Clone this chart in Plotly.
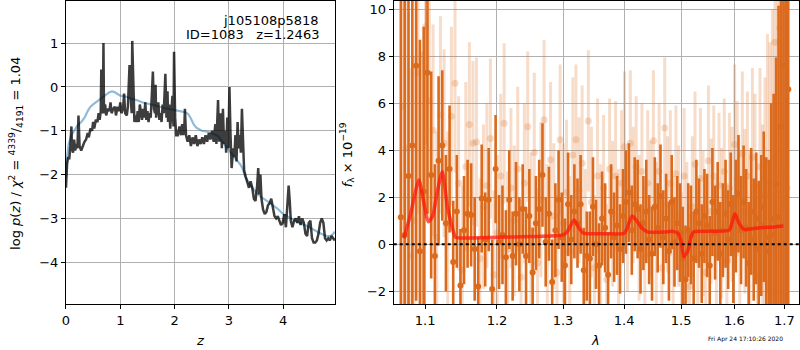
import plotly.graph_objects as go

# ---------------- left panel: redshift PDF ----------------
z_grid = [0.00,0.02,0.04,0.06,0.08,0.10,0.11,0.13,0.15,0.17,0.19,0.21,0.23,0.25,0.28,0.31,0.34,0.37,0.40,0.42,
          0.45,0.48,0.50,0.52,0.55,0.58,0.60,0.62,0.64,0.65,0.66,0.68,0.69,0.70,0.72,0.74,0.77,0.80,0.82,0.84,
          0.87,0.90,0.92,0.95,0.98,1.00,1.02,1.05,1.07,1.09,1.12,1.14,1.17,1.19,1.21,1.22,1.24,1.26,1.28,1.30,
          1.32,1.34,1.36,1.38,1.40,1.42,1.44,1.46,1.48,1.50,1.52,1.54,1.56,1.58,1.60,1.62,1.64,1.65,1.66,1.68,
          1.70,1.72,1.74,1.76,1.78,1.80,1.83,1.85,1.87,1.88,1.90,1.92,1.94,1.96,1.98,1.99,2.01,2.03,2.06,2.09,
          2.12,2.14,2.16,2.18,2.19,2.21,2.24,2.27,2.30,2.33,2.36,2.39,2.42,2.45,2.48,2.51,2.54,2.57,2.60,2.63,
          2.66,2.69,2.72,2.75,2.77,2.80,2.82,2.85,2.87,2.89,2.91,2.93,2.95,2.97,2.99,3.01,3.03,3.05,3.08,3.10,
          3.12,3.14,3.16,3.18,3.20,3.22,3.24,3.26,3.28,3.31,3.34,3.37,3.40,3.43,3.46,3.49,3.52,3.54,3.56,3.58,
          3.60,3.63,3.66,3.69,3.72,3.75,3.78,3.81,3.84,3.87,3.90,3.93,3.96,3.99,4.02,4.05,4.08,4.10,4.12,4.14,
          4.17,4.20,4.23,4.26,4.29,4.32,4.35,4.38,4.41,4.44,4.47,4.50,4.53,4.56,4.59,4.62,4.65,4.68,4.71,4.74,
          4.77,4.80,4.83,4.86,4.89,4.92,4.95]
log_pz = [-2.30,-1.75,-1.60,-1.65,-1.35,-0.90,-1.40,-1.50,-1.20,-1.45,-1.30,-1.40,-0.65,-1.35,-1.45,-1.35,-1.25,-1.20,-1.05,-1.15,
          -0.95,-1.00,-0.80,-0.95,-0.75,-0.80,-0.60,-0.75,-0.55,0.40,-0.60,-0.50,1.00,-0.60,-0.40,-0.65,-0.50,-0.55,-0.35,-0.60,
          -0.50,-0.45,-0.65,-0.45,-0.55,-0.35,-0.60,-0.50,-0.15,-0.60,-0.65,-0.45,0.50,-0.20,-0.60,1.05,-0.30,-0.80,-0.65,-0.80,
          -0.55,-0.80,-0.40,-0.60,-0.75,-0.50,-0.70,-0.35,-0.75,-0.55,-0.80,-0.60,-0.70,-0.20,0.35,-0.50,-0.60,0.05,-0.70,-0.50,
          -0.35,-0.75,-0.60,-0.80,-0.40,-0.60,0.30,-0.70,-0.10,-0.80,-0.40,-0.95,-0.60,-0.20,-0.90,0.80,-0.70,-1.10,-1.10,-0.90,
          -1.10,-0.85,-1.10,-0.90,-0.50,-1.10,-1.25,-1.10,-1.35,-1.15,-1.30,-1.10,-1.35,-1.20,-1.30,-1.15,-1.30,-1.10,-1.25,-1.05,
          -1.20,-1.00,-1.25,-0.85,-1.30,-0.30,-1.25,-0.60,-1.40,-0.50,-1.30,-1.00,-1.50,-0.70,-1.40,0.00,-1.10,-1.85,-1.40,-1.60,
          -1.10,-1.70,-0.80,-1.40,-1.10,-1.50,-0.50,-1.40,-1.90,-2.05,-2.20,-2.30,-2.15,-2.30,-2.55,-2.60,-2.25,-1.85,-2.45,-2.00,
          -2.55,-2.80,-2.90,-2.85,-2.70,-2.65,-2.55,-2.75,-2.95,-3.00,-2.95,-3.05,-3.15,-3.10,-2.90,-3.20,-2.50,-2.25,-2.60,-3.05,
          -3.20,-3.05,-3.00,-3.10,-2.95,-3.15,-3.00,-3.10,-3.35,-3.40,-3.10,-3.05,-3.45,-3.55,-3.55,-3.50,-3.35,-3.10,-3.00,-3.10,
          -3.45,-3.50,-3.45,-3.50,-3.40,-3.45,-3.50]

z_smooth = [0.00,0.02,0.05,0.10,0.15,0.20,0.30,0.35,0.40,0.45,0.50,0.55,0.60,0.70,0.80,0.85,0.90,1.00,1.10,1.20,
            1.30,1.40,1.50,1.60,1.70,1.80,1.90,2.00,2.10,2.20,2.25,2.30,2.35,2.40,2.50,2.60,2.70,2.80,2.85,2.90,
            3.00,3.10,3.20,3.25,3.30,3.40,3.50,3.60,3.70,3.80,3.90,4.00,4.10,4.20,4.30,4.40,4.50,4.60,4.70,4.80,
            4.87,4.92,4.95]
logp_smooth = [-2.05,-1.60,-1.30,-1.10,-1.00,-0.90,-0.77,-0.68,-0.55,-0.45,-0.40,-0.35,-0.30,-0.20,-0.12,-0.10,-0.12,-0.20,-0.22,-0.27,
               -0.30,-0.35,-0.38,-0.40,-0.44,-0.48,-0.50,-0.53,-0.55,-0.58,-0.62,-0.72,-0.85,-0.93,-1.00,-1.02,-1.06,-1.12,-1.20,-1.30,
               -1.45,-1.60,-1.75,-1.85,-2.05,-2.25,-2.40,-2.52,-2.60,-2.68,-2.78,-2.90,-2.97,-3.03,-3.10,-3.15,-3.22,-3.28,-3.35,-3.40,
               -3.40,-3.35,-3.30]

# ---------------- right panel: 1D spectrum ----------------
lam_a = [1.068,1.073,1.078,1.083,1.088,1.093,1.098,1.103,1.108,1.113,1.118,1.123,1.128,1.133,1.138,1.143,1.148,1.153,1.158,1.163,
         1.168,1.173,1.178,1.183,1.188,1.193,1.198,1.203,1.208,1.213,1.218,1.223,1.228,1.233,1.238,1.243,1.248,1.253,1.258,1.263,
         1.268,1.273,1.278,1.283,1.288,1.293,1.298,1.303,1.308,1.313,1.318,1.323,1.328,1.333,1.338,1.343,1.348,1.353,1.358,1.363,
         1.368,1.373,1.378,1.383,1.388,1.393,1.398,1.403,1.408,1.413,1.418,1.423,1.428,1.433,1.438,1.443,1.448,1.453,1.458,1.463,
         1.468,1.473,1.478,1.483,1.488,1.493,1.498,1.503,1.508,1.513,1.518,1.523,1.528,1.533,1.538,1.543,1.548,1.553,1.558,1.563,
         1.568,1.573,1.578,1.583,1.588,1.593,1.598,1.603,1.608,1.613,1.618,1.623,1.628,1.633,1.638,1.643,1.648,1.653,1.658,1.663,
         1.668,1.673,1.678,1.683,1.688,1.693,1.698,1.703,1.708]
flux_a = [1.15,0.4,2.9,4.2,7.6,-0.3,2.25,7.3,2.95,-0.5,
          3.55,4.2,0.9,3.2,-0.75,1.4,-1.75,0.6,1.3,1.25,
          -0.2,-1.8,1.95,0.2,1.9,-1.9,3.2,0.1,0.4,-0.55,
          1.9,-0.5,1.3,0.0,1.5,-0.5,1.2,-1.2,0.9,1.5,
          2.95,0.1,1.3,-1.6,0.6,1.9,0.3,-0.9,1.7,0.2,
          1.4,0.9,1.7,-1.1,-0.5,-0.6,1.6,0.0,-0.9,1.1,
          0.7,-1.3,1.4,0.3,0.8,-0.2,1.2,1.8,2.2,0.6,
          1.7,1.5,-0.2,0.9,1.4,0.2,-0.4,1.6,0.7,2.05,
          0.3,1.1,-0.3,1.8,0.1,0.9,0.5,-0.6,-1.5,0.6,
          0.4,-0.6,1.4,0.9,-0.4,1.2,0.8,-0.9,1.8,0.5,
          1.4,-0.4,0.6,1.3,0.2,1.7,-0.2,1.2,2.15,0.6,
          1.8,0.7,-0.8,1.4,0.2,1.1,-0.2,0.8,1.6,0.3,
          -0.3,1.1,0.4,2.55,1.15,5.0,7.6,10.0,6.6]
err_a = [14,16,13,11,10,9,7,6,4.4,3.9,
         3.6,3.2,2.9,2.7,2.6,2.4,2.4,2.3,2.3,2.2,
         2.2,2.1,2.3,2.0,2.2,2.1,2.3,2.0,2.1,2.0,
         2.1,1.9,2.2,2.0,1.9,2.1,2.0,1.9,2.0,2.1,
         2.2,1.9,2.0,1.8,2.0,2.1,1.9,2.0,2.2,1.9,
         2.0,1.9,2.1,1.8,1.9,2.0,2.1,1.9,1.8,2.0,
         1.9,1.8,2.0,1.9,2.1,1.9,2.0,2.2,2.1,1.9,
         2.0,2.1,1.9,2.0,2.2,1.9,2.0,2.1,1.9,2.2,
         2.0,1.9,2.1,2.0,1.9,2.0,2.1,2.2,2.3,2.0,
         2.1,2.0,2.2,1.9,2.1,2.0,2.2,2.1,2.3,2.0,
         2.1,2.2,2.0,2.3,2.1,2.2,2.3,2.4,2.5,2.3,
         2.4,2.5,2.6,2.7,2.6,2.8,2.9,3.0,3.2,3.4,
         3.9,4.9,6,5.4,9,11,13,14,16]

lam_b = [1.0705,1.0755,1.0805,1.0855,1.0905,1.0955,1.1005,1.1055,1.1105,1.1155,1.1205,1.1255,1.1305,1.1355,1.1405,1.1455,1.1505,1.1555,1.1605,1.1655,
         1.1705,1.1755,1.1805,1.1855,1.1905,1.1955,1.2005,1.2055,1.2105,1.2155,1.2205,1.2255,1.2305,1.2355,1.2405,1.2455,1.2505,1.2555,1.2605,1.2655,
         1.2705,1.2755,1.2805,1.2855,1.2905,1.2955,1.3005,1.3055,1.3105,1.3155,1.3205,1.3255,1.3305,1.3355,1.3405,1.3455,1.3505,1.3555,1.3605,1.3655,
         1.3705,1.3755,1.3805,1.3855,1.3905,1.3955,1.4005,1.4055,1.4105,1.4155,1.4205,1.4255,1.4305,1.4355,1.4405,1.4455,1.4505,1.4555,1.4605,1.4655,
         1.4705,1.4755,1.4805,1.4855,1.4905,1.4955,1.5005,1.5055,1.5105,1.5155,1.5205,1.5255,1.5305,1.5355,1.5405,1.5455,1.5505,1.5555,1.5605,1.5655,
         1.5705,1.5755,1.5805,1.5855,1.5905,1.5955,1.6005,1.6055,1.6105,1.6155,1.6205,1.6255,1.6305,1.6355,1.6405,1.6455,1.6505,1.6555,1.6605,1.6655,
         1.6705,1.6755,1.6805,1.6855,1.6905,1.6955,1.7005,1.7055]
flux_b = [5.85,4.1,-0.5,1.0,7.3,2.2,9.25,6.1,4.85,0.3,
          5.5,4.3,0.8,5.45,6.85,2.6,-1.1,3.3,5.1,4.3,
          4.35,-0.6,1.6,2.5,4.5,-1.3,0.5,2.9,5.15,-0.2,
          2.4,1.0,3.2,-1.4,2.6,5.0,0.6,3.9,-0.8,1.9,
          5.3,0.2,3.6,1.2,-1.2,4.45,0.9,2.2,-0.3,3.8,
          4.45,2.3,3.45,0.0,5.25,1.8,-1.0,2.9,0.4,2.4,
          -1.5,3.2,1.3,2.9,0.2,2.6,4.15,1.0,4.3,2.1,
          3.3,0.7,3.1,-0.5,2.6,1.5,4.4,0.4,3.1,-1.0,
          4.95,1.7,2.6,-0.1,3.0,1.2,-0.9,2.9,0.5,-1.8,
          1.6,3.4,-0.6,2.8,0.9,-1.2,3.55,1.4,2.9,-0.4,
          2.5,0.9,3.1,-0.7,2.4,1.7,4.25,2.8,0.6,3.85,
          1.4,2.9,0.3,3.7,2.5,-1.4,3.3,0.6,2.1,3.45,
          2.6,3.0,8.6,5.0,9.2,3.2,1.8,2.4]
err_b = [9,8,8,7,6,6,5,5,4.5,4.5,
         4.2,4.0,4.0,3.8,3.8,3.7,3.6,3.6,3.5,3.5,
         3.6,3.4,3.5,3.5,3.4,3.6,3.3,3.5,3.4,3.3,
         3.4,3.2,3.5,3.3,3.4,3.2,3.3,3.4,3.2,3.3,
         3.4,3.2,3.3,3.1,3.3,3.2,3.4,3.1,3.2,3.3,
         3.2,3.1,3.3,3.2,3.0,3.2,3.1,3.3,3.0,3.1,
         3.2,3.0,3.1,3.2,3.0,3.1,3.2,3.0,3.1,2.9,
         3.0,3.1,2.9,3.0,3.1,2.9,3.0,3.1,2.9,3.0,
         3.0,2.9,3.1,3.0,2.9,3.0,3.1,2.9,3.0,3.1,
         3.0,3.1,2.9,3.0,3.1,3.0,3.2,3.1,3.0,3.2,
         3.1,3.2,3.1,3.3,3.2,3.3,3.4,3.3,3.4,3.5,
         3.5,3.6,3.7,3.8,3.9,4.0,4.2,4.5,5.0,5.5,
         6,7,8,9,10,11,12,13]

model_lam = [1.072,1.080,1.0916,1.098,1.104,1.110,1.116,1.123,1.130,1.136,1.1412,1.150,1.200,1.250,1.300,1.307,1.3176,
             1.325,1.332,1.340,1.370,1.400,1.406,1.413,1.420,1.430,1.440,1.470,1.485,1.495,1.500,1.505,1.512,1.518,
             1.523,1.550,1.590,1.596,1.601,1.610,1.620,1.6306,1.650,1.680,1.698]
model_flux = [0.26,1.2,2.73,1.8,0.96,1.2,2.2,3.09,1.6,0.8,0.30,0.27,0.30,0.33,0.40,0.55,1.03,
              0.7,0.48,0.45,0.45,0.47,0.75,1.20,1.05,0.70,0.53,0.52,0.55,0.45,0.10,-0.53,-0.30,0.30,
              0.53,0.56,0.60,0.95,1.30,0.85,0.62,0.65,0.70,0.74,0.78]

# tick labels
lam_ticks = [1.1, 1.2, 1.3, 1.4, 1.5, 1.6, 1.7]
lam_ticktext = ["1.1", "1.2", "1.3", "1.4", "1.5", "1.6", "1.7"]

FONT = "DejaVu Sans"
DARK_OR = "rgb(219,106,28)"
LIGHT_OR = "rgba(225,115,40,0.25)"

fig = go.Figure()

fig.add_trace(go.Scatter(x=z_smooth, y=logp_smooth, mode="lines",
                         line=dict(color="rgba(31,119,180,0.5)", width=2.2),
                         xaxis="x", yaxis="y", hoverinfo="skip"))
fig.add_trace(go.Scatter(x=z_grid, y=log_pz, mode="lines",
                         line=dict(color="rgba(0,0,0,0.76)", width=2.5),
                         xaxis="x", yaxis="y", hoverinfo="skip"))

fig.add_trace(go.Scatter(x=lam_b, y=flux_b, mode="markers",
                         marker=dict(color=LIGHT_OR, size=7, line=dict(width=0)),
                         error_y=dict(type="data", array=err_b, visible=True, thickness=3,
                                      width=0, color=LIGHT_OR),
                         xaxis="x2", yaxis="y2", hoverinfo="skip"))
fig.add_trace(go.Scatter(x=lam_a, y=flux_a, mode="markers",
                         marker=dict(color=DARK_OR, size=6, line=dict(width=0)),
                         error_y=dict(type="data", array=err_a, visible=True, thickness=2.6,
                                      width=0, color=DARK_OR),
                         xaxis="x2", yaxis="y2", hoverinfo="skip"))
fig.add_trace(go.Scatter(x=model_lam, y=model_flux, mode="lines",
                         line=dict(color="rgba(255,20,10,0.72)", width=3.5, shape="spline", smoothing=0.6),
                         xaxis="x2", yaxis="y2", hoverinfo="skip"))

fig.add_shape(type="line", xref="x2 domain", yref="y2", x0=0, x1=1, y0=0, y1=0,
              line=dict(color="black", width=2, dash="dot"))

ax_common = dict(showgrid=True, gridcolor="#b0b0b0", gridwidth=1, showline=True, linecolor="black",
                 linewidth=1, mirror=True, ticks="outside", ticklen=4, tickcolor="black",
                 tickfont=dict(family=FONT, size=13, color="black"), zeroline=False)

YDOM = [1 - 304 / 350, 1 - 1 / 350]
fig.update_layout(
    width=800, height=350, margin=dict(l=0, r=0, t=0, b=0),
    paper_bgcolor="white", plot_bgcolor="white", showlegend=False,
    font=dict(family=FONT, size=13, color="black"),
    xaxis=dict(domain=[62.3 / 800, 333 / 800], range=[0, 4.96], tickvals=[0, 1, 2, 3, 4],
               anchor="y", **ax_common),
    yaxis=dict(domain=YDOM, range=[-4.95, 1.96], tickvals=[-4, -3, -2, -1, 0, 1],
               ticktext=["\u22124", "\u22123", "\u22122", "\u22121", "0", "1"], anchor="x", **ax_common),
    xaxis2=dict(domain=[391.7 / 800, 799.3 / 800], type="log", range=[0.02484, 0.2383],
                tickvals=lam_ticks, ticktext=lam_ticktext, anchor="y2", **ax_common),
    yaxis2=dict(domain=YDOM, range=[-2.54, 10.35], tickvals=[-2, 0, 2, 4, 6, 8, 10],
                ticktext=["\u22122", "0", "2", "4", "6", "8", "10"], anchor="x2", **ax_common),
)

def ann(text, x, y, size=13, xanchor="center", yanchor="middle", angle=0):
    fig.add_annotation(text=text, x=x / 800, y=1 - y / 350, xref="paper", yref="paper",
                       showarrow=False, xanchor=xanchor, yanchor=yanchor, textangle=angle,
                       font=dict(family=FONT, size=size, color="black"))

ann("j105108p5818", 319, 20, xanchor="right")
ann("ID=1083   z=1.2463", 319, 35, xanchor="right")
ann("<i>z</i>", 197, 340)
ann("<i>λ</i>", 594, 340)
ann("log <i>p</i>(<i>z</i>) / <i>χ</i><sup>2</sup> = <sup>4339</sup>/<sub>4191</sub> = 1.04", 12, 153, angle=-90)
ann("<i>f</i><sub>λ</sub> × 10<sup>−19</sup>", 345, 155, angle=-90)
ann("Fri Apr 24 17:10:26 2020", 745, 339, size=6)

fig.write_html("out.html", config={"displayModeBar": False},
               post_script="document.body.style.margin='0px';document.body.style.padding='0px';")
